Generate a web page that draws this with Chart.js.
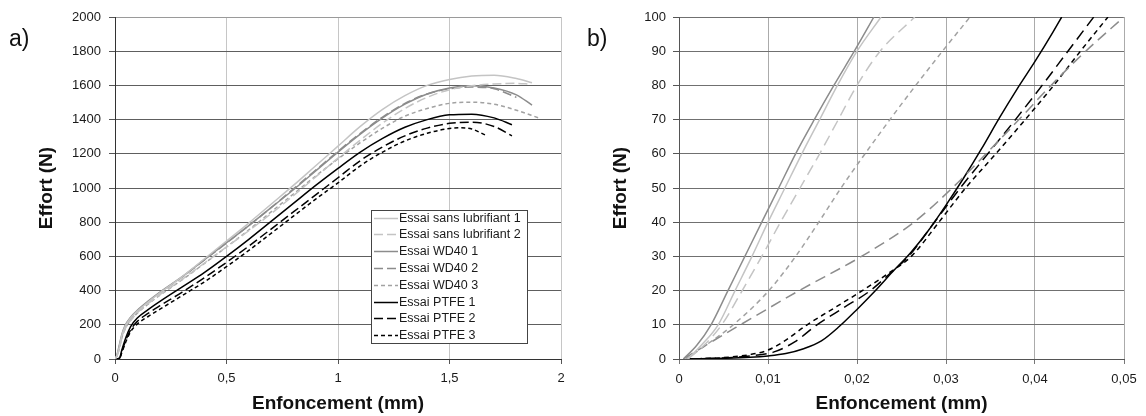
<!DOCTYPE html>
<html><head><meta charset="utf-8">
<script src="https://cdn.jsdelivr.net/npm/chart.js@4.4.1/dist/chart.umd.min.js"></script>
<style>
html,body{margin:0;padding:0;background:#fff;}
#wrap{position:relative;width:1146px;height:416px;overflow:hidden;background:#fff;}
canvas{position:absolute;top:0;}
.lab{position:absolute;font-family:"Liberation Sans",Arial,sans-serif;font-size:23px;color:#111;line-height:1;}
</style></head><body>
<div id="wrap">
<canvas id="ca" width="575" height="416" style="left:0"></canvas>
<canvas id="cb" width="571" height="416" style="left:575px"></canvas>
<div class="lab" style="left:9px;top:27px">a)</div>
<div class="lab" style="left:587px;top:27px">b)</div>
</div>
<script>
// ---------- Data: chart a) (Enfoncement mm, Effort N) ----------
const aLabels = ["Essai sans lubrifiant 1","Essai sans lubrifiant 2","Essai WD40 1","Essai WD40 2","Essai WD40 3","Essai PTFE 1","Essai PTFE 2","Essai PTFE 3"];
const aSansLub1 = [[0,0],[0.01,25],[0.02,75],[0.03,135],[0.045,190],[0.07,240],[0.1,280],[0.15,335],[0.2,385],[0.3,480],[0.4,585],[0.5,690],[0.6,795],[0.7,905],[0.8,1015],[0.9,1130],[1.0,1245],[1.1,1360],[1.2,1460],[1.3,1540],[1.4,1600],[1.5,1635],[1.6,1655],[1.7,1660],[1.8,1640],[1.87,1615]];
const aSansLub2 = [[0,0],[0.01,20],[0.02,65],[0.03,120],[0.045,175],[0.07,225],[0.1,270],[0.15,325],[0.2,375],[0.3,465],[0.4,560],[0.5,655],[0.6,750],[0.7,850],[0.8,955],[0.9,1065],[1.0,1175],[1.1,1280],[1.2,1380],[1.3,1465],[1.4,1530],[1.5,1575],[1.6,1598],[1.7,1608],[1.8,1612],[1.86,1608]];
const aWD40_1 = [[0,0],[0.01,30],[0.02,85],[0.03,140],[0.045,195],[0.07,245],[0.1,285],[0.15,340],[0.2,390],[0.3,480],[0.4,580],[0.5,680],[0.6,780],[0.7,885],[0.8,990],[0.9,1100],[1.0,1210],[1.1,1315],[1.2,1410],[1.3,1490],[1.4,1550],[1.5,1585],[1.6,1598],[1.7,1585],[1.8,1545],[1.87,1485]];
const aWD40_2 = [[0,0],[0.01,25],[0.02,75],[0.03,130],[0.045,185],[0.07,235],[0.1,278],[0.15,335],[0.2,385],[0.3,478],[0.4,578],[0.5,678],[0.6,780],[0.7,885],[0.8,995],[0.9,1105],[1.0,1215],[1.1,1320],[1.2,1415],[1.3,1495],[1.4,1550],[1.5,1580],[1.6,1590],[1.7,1580],[1.8,1530]];
const aWD40_3 = [[0,0],[0.01,20],[0.02,65],[0.03,120],[0.045,175],[0.07,225],[0.1,268],[0.15,322],[0.2,372],[0.3,462],[0.4,558],[0.5,655],[0.6,755],[0.7,860],[0.8,965],[0.9,1070],[1.0,1170],[1.1,1265],[1.2,1350],[1.3,1420],[1.4,1465],[1.5,1495],[1.6,1502],[1.7,1490],[1.8,1455],[1.9,1410]];
const aPTFE1 = [[0,0],[0.02,5],[0.03,50],[0.05,130],[0.07,190],[0.1,240],[0.15,290],[0.2,335],[0.3,420],[0.4,505],[0.5,600],[0.6,700],[0.7,805],[0.8,910],[0.9,1015],[1.0,1115],[1.1,1210],[1.2,1290],[1.3,1355],[1.4,1400],[1.5,1428],[1.6,1432],[1.7,1410],[1.78,1370]];
const aPTFE2 = [[0,0],[0.02,3],[0.03,40],[0.05,115],[0.07,170],[0.1,220],[0.15,268],[0.2,310],[0.3,390],[0.4,475],[0.5,565],[0.6,660],[0.7,760],[0.8,860],[0.9,960],[1.0,1060],[1.1,1160],[1.2,1240],[1.3,1305],[1.4,1350],[1.5,1378],[1.6,1385],[1.7,1360],[1.78,1305]];
const aPTFE3 = [[0,0],[0.02,2],[0.03,35],[0.05,105],[0.07,160],[0.1,205],[0.15,250],[0.2,290],[0.3,370],[0.4,450],[0.5,540],[0.6,635],[0.7,735],[0.8,835],[0.9,935],[1.0,1030],[1.1,1130],[1.2,1210],[1.3,1275],[1.4,1320],[1.5,1348],[1.55,1352],[1.6,1345],[1.66,1310]];
const aXTicks = [0,0.5,1,1.5,2];
const aYTicks = [0,200,400,600,800,1000,1200,1400,1600,1800,2000];

// ---------- Data: chart b) zoom near origin ----------
const bSansLub1 = [[0.001,0],[0.0025,4],[0.0044,10],[0.0063,20],[0.0082,30],[0.0100,40],[0.0119,50],[0.0138,60],[0.0158,70],[0.0178,80],[0.0200,90],[0.0227,100]];
const bSansLub2 = [[0.001,0],[0.0028,4],[0.0048,10],[0.0071,20],[0.0093,30],[0.0114,40],[0.0136,50],[0.0158,60],[0.0179,70],[0.0200,80],[0.0226,90],[0.0265,100]];
const bWD40_1 = [[0.0005,0],[0.002,4],[0.0036,10],[0.0055,20],[0.0074,30],[0.0093,40],[0.0112,50],[0.0131,60],[0.0152,70],[0.0174,80],[0.0197,90],[0.0219,100]];
const bWD40_2 = [[0.0005,0],[0.003,4],[0.0069,10],[0.0135,20],[0.0205,30],[0.0264,40],[0.0307,50],[0.0345,60],[0.0382,70],[0.0418,80],[0.0457,90],[0.050,100]];
const bWD40_3 = [[0.0008,0],[0.003,4],[0.0061,10],[0.0101,20],[0.0131,30],[0.0157,40],[0.0182,50],[0.0209,60],[0.0237,70],[0.0266,80],[0.0296,90],[0.0327,100]];
const bPTFE1 = [[0.001,0],[0.005,0.2],[0.008,0.5],[0.010,0.9],[0.012,1.6],[0.014,3],[0.016,5.3],[0.018,9.5],[0.020,14.5],[0.022,19.8],[0.024,25.5],[0.026,31],[0.028,37.5],[0.030,45],[0.032,53],[0.034,61.5],[0.036,70.5],[0.038,79],[0.040,87],[0.042,95.5],[0.043,100]];
const bPTFE2 = [[0.001,0],[0.005,0.3],[0.008,0.9],[0.0106,2],[0.013,5],[0.0155,10],[0.0185,15],[0.0215,20],[0.0237,25],[0.0258,30],[0.0287,40],[0.0316,50],[0.0347,60],[0.0378,70],[0.0408,80],[0.0437,90],[0.0466,100]];
const bPTFE3 = [[0.001,0],[0.005,0.4],[0.008,1.3],[0.0099,2.5],[0.0117,5],[0.0144,10],[0.0175,15],[0.0206,20],[0.0235,25],[0.0261,30],[0.0292,40],[0.0322,50],[0.0356,60],[0.0389,70],[0.0421,80],[0.0451,90],[0.0482,100]];
const bXTicks = [0,0.01,0.02,0.03,0.04,0.05];
const bYTicks = [0,10,20,30,40,50,60,70,80,90,100];

Chart.defaults.font.family = '"Liberation Sans", Arial, sans-serif';
Chart.defaults.color = '#1a1a1a';

const LIGHT = '#c4c4c4', MID = '#8c8c8c', MID2 = '#a2a2a2', BLACK = '#000';
function styles(longDash, shortDash){
  return [
    {c:LIGHT, d:[]},
    {c:LIGHT, d:longDash},
    {c:MID, d:[]},
    {c:MID, d:longDash},
    {c:MID2, d:shortDash},
    {c:BLACK, d:[]},
    {c:BLACK, d:longDash},
    {c:BLACK, d:shortDash}
  ];
}
function mk(series, st, w){
  return series.map((pts,i)=>({
    label: aLabels[i],
    data: pts.map(p=>({x:p[0],y:p[1]})),
    borderColor: st[i].c, borderDash: st[i].d, borderWidth: w,
    pointRadius: 0, fill:false, cubicInterpolationMode:'monotone'
  }));
}
const comma = v => String(Math.round(v*1000)/1000).replace('.',',');

const legendBox = {
  id:'boxLegend',
  afterDraw(chart){
    const ctx = chart.ctx;
    const x0=371,y0=210,w=156,h=133;
    ctx.save();
    ctx.fillStyle='#fff'; ctx.fillRect(x0,y0,w,h);
    ctx.strokeStyle='#444'; ctx.lineWidth=1; ctx.strokeRect(x0+0.5,y0+0.5,w,h);
    ctx.font='12.5px "Liberation Sans", Arial, sans-serif';
    ctx.textBaseline='middle'; ctx.textAlign='left';
    chart.data.datasets.forEach((ds,i)=>{
      const y = Math.round(y0+7.5+i*16.8)+0.5;
      ctx.strokeStyle=ds.borderColor; ctx.lineWidth=ds.borderWidth; ctx.setLineDash(ds.borderDash||[]);
      ctx.beginPath(); ctx.moveTo(x0+3,y); ctx.lineTo(x0+27,y); ctx.stroke();
      ctx.setLineDash([]);
      ctx.fillStyle='#1a1a1a'; ctx.fillText(ds.label, x0+28, y);
    });
    ctx.restore();
  }
};

new Chart(document.getElementById('ca'), {
  type:'line',
  data:{datasets: mk([aSansLub1,aSansLub2,aWD40_1,aWD40_2,aWD40_3,aPTFE1,aPTFE2,aPTFE3], styles([9,4],[4,3]), 1.5)},
  plugins:[legendBox],
  options:{
    responsive:false, animation:false, devicePixelRatio:1,
    layout:{padding:{left:0,top:17,right:14,bottom:0}},
    plugins:{legend:{display:false}, tooltip:{enabled:false}},
    scales:{
      x:{type:'linear', min:0, max:2,
        afterBuildTicks: s => { s.ticks = aXTicks.map(v=>({value:v})); },
        afterFit: s => { s.height = 57; },
        ticks:{callback: v=>comma(v), font:{size:13}, padding:7, maxRotation:0, color:'#1a1a1a'},
        grid:{color:'#c6c6c6', lineWidth:1, tickLength:5, tickColor:'#555'},
        border:{color:'#333', width:1},
        title:{display:true, text:'Enfoncement (mm)', font:{size:19, weight:'bold'}, padding:{top:0,bottom:1}, color:'#111'}
      },
      y:{min:0, max:2000,
        afterBuildTicks: s => { s.ticks = aYTicks.map(v=>({value:v})); },
        afterFit: s => { s.width = 115; },
        ticks:{callback: v=>String(v), font:{size:13}, padding:8, color:'#1a1a1a'},
        grid:{color: c => c.tick && c.tick.value===2000 ? '#9a9a9a' : '#5e5e5e', lineWidth:1, tickLength:6, tickColor:'#555'},
        border:{color:'#333', width:1},
        title:{display:true, text:'Effort (N)', font:{size:19, weight:'bold'}, padding:{top:35,bottom:0}, color:'#111'}
      }
    }
  }
});

new Chart(document.getElementById('cb'), {
  type:'line',
  data:{datasets: mk([bSansLub1,bSansLub2,bWD40_1,bWD40_2,bWD40_3,bPTFE1,bPTFE2,bPTFE3], styles([11,6],[5,4]), 1.5)},
  options:{
    responsive:false, animation:false, devicePixelRatio:1,
    layout:{padding:{left:0,top:17,right:22,bottom:0}},
    plugins:{legend:{display:false}, tooltip:{enabled:false}},
    scales:{
      x:{type:'linear', min:0, max:0.05,
        afterBuildTicks: s => { s.ticks = bXTicks.map(v=>({value:v})); },
        afterFit: s => { s.height = 57; },
        ticks:{callback: v=> v===0 ? '0' : v.toFixed(2).replace('.',','), font:{size:13}, padding:8, maxRotation:0, color:'#1a1a1a'},
        grid:{color:'#ababab', lineWidth:1, tickLength:5, tickColor:'#777'},
        border:{color:'#555', width:1},
        title:{display:true, text:'Enfoncement (mm)', font:{size:19, weight:'bold'}, padding:{top:0,bottom:1}, color:'#111'}
      },
      y:{min:0, max:100,
        afterBuildTicks: s => { s.ticks = bYTicks.map(v=>({value:v})); },
        afterFit: s => { s.width = 104; },
        ticks:{callback: v=>String(v), font:{size:13}, padding:7, color:'#1a1a1a'},
        grid:{color:'#707070', lineWidth:1, tickLength:6, tickColor:'#555'},
        border:{color:'#555', width:1},
        title:{display:true, text:'Effort (N)', font:{size:19, weight:'bold'}, padding:{top:34,bottom:0}, color:'#111'}
      }
    }
  }
});
</script>
</body></html>
